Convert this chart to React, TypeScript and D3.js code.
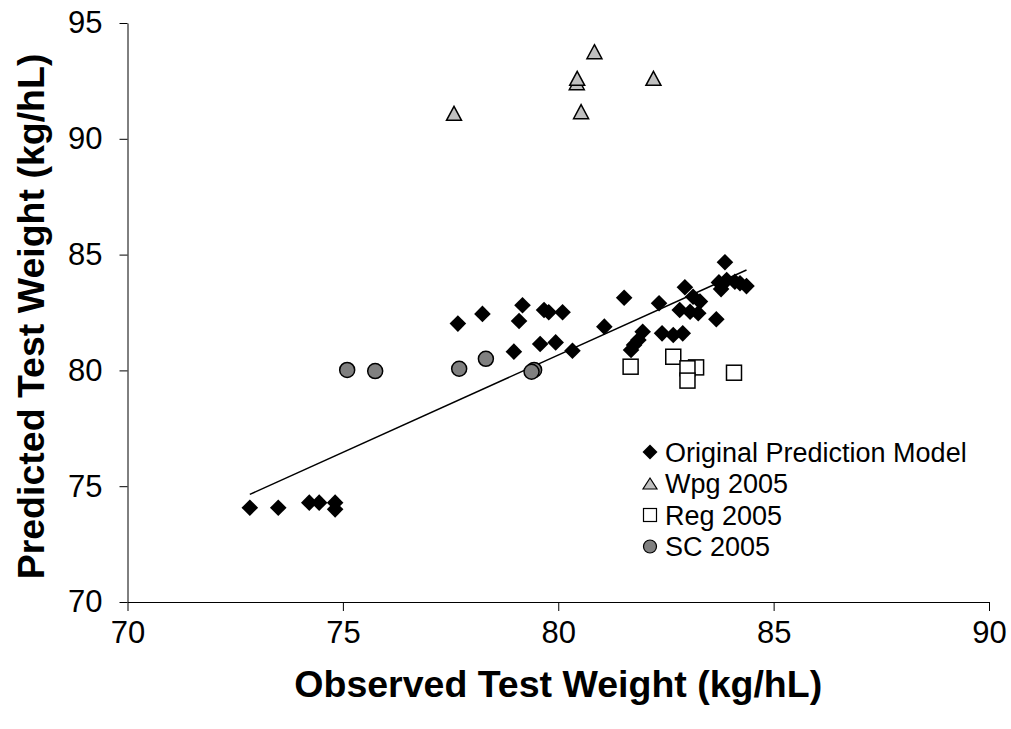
import React, { useEffect, useRef } from 'react'
import * as d3 from 'd3'

const xTicks = [70, 75, 80, 85, 90]
const yTicks = [70, 75, 80, 85, 90, 95]

// Original Prediction Model (diamonds)
const originalX = [
  72.84, 73.5, 74.22, 74.45, 74.82, 74.82, 77.67, 78.24, 79.17, 79.09, 79.67, 79.78, 80.1, 78.97,
  79.58, 79.94, 80.33, 81.53, 81.07, 82.34, 81.96, 81.86, 81.76, 81.69, 82.41, 82.67, 82.89, 82.94,
  83.13, 83.29, 82.82, 83.06, 83.25, 83.67, 83.87, 83.73, 83.91, 84.1, 84.22, 84.37, 83.78,
]
const originalY = [
  74.07, 74.07, 74.29, 74.29, 74.29, 74.0, 82.02, 82.44, 82.81, 82.13, 82.61, 82.51, 82.51, 80.81,
  81.14, 81.21, 80.85, 83.14, 81.89, 82.9, 81.67, 81.31, 81.1, 80.88, 81.6, 81.53, 81.6, 83.59,
  83.18, 82.97, 82.61, 82.53, 82.47, 82.21, 84.67, 83.8, 83.9, 83.83, 83.76, 83.64, 83.51,
]

// Wpg 2005 (triangles)
const wpgX = [77.58, 80.43, 80.44, 80.53, 80.84, 82.21]
const wpgY = [91.1, 92.42, 92.61, 91.17, 93.76, 92.61]

// Reg 2005 (squares)
const regX = [81.68, 82.67, 83.2, 83.0, 83.0, 84.08]
const regY = [80.16, 80.59, 80.13, 80.09, 79.56, 79.9]

// SC 2005 (circles)
const scX = [75.1, 75.75, 77.7, 78.32, 79.44, 79.38]
const scY = [80.02, 79.97, 80.07, 80.5, 80.02, 79.94]

const seriesNames = ['Original Prediction Model', 'Wpg 2005', 'Reg 2005', 'SC 2005']

const FONT = 'Liberation Sans, Arial, Helvetica, sans-serif'

const diamondPath = (r: number) => `M0,${-r}L${r},0L0,${r}L${-r},0Z`
const trianglePath = (w: number, h: number) =>
  `M0,${-h / 2}L${w / 2},${h / 2}L${-w / 2},${h / 2}Z`

const App = () => {
  const ref = useRef<SVGSVGElement>(null)
  const width = 1011
  const height = 729
  const margin = { top: 23, right: 22, bottom: 127, left: 127.5 }

  useEffect(() => {
    const root = d3.select(ref.current)
    root.selectAll('*').remove()

    const x = d3
      .scaleLinear()
      .domain([70, 90])
      .range([margin.left, width - margin.right])
    const y = d3
      .scaleLinear()
      .domain([70, 95])
      .range([height - margin.bottom, margin.top])

    const svg = root.append('g').attr('font-family', FONT)

    // axes
    const xAxis = svg
      .append('g')
      .attr('transform', `translate(0, ${y(70)})`)
      .call(d3.axisBottom(x).tickValues(xTicks).tickSize(9).tickPadding(10).tickSizeOuter(0))
    xAxis.select('.domain').attr('stroke', '#000')
    xAxis.selectAll('line').attr('stroke', '#000')
    xAxis.selectAll('text').attr('font-size', 31).attr('fill', '#000').attr('font-family', FONT)

    const yAxis = svg
      .append('g')
      .attr('transform', `translate(${x(70)}, 0)`)
      .call(d3.axisLeft(y).tickValues(yTicks).tickSize(8).tickPadding(17).tickSizeOuter(0))
    yAxis.select('.domain').attr('stroke', '#000')
    yAxis.selectAll('line').attr('stroke', '#000')
    yAxis.selectAll('text').attr('font-size', 31).attr('fill', '#000').attr('font-family', FONT)

    // axis titles
    svg
      .append('text')
      .attr('x', (x(70) + x(90)) / 2)
      .attr('y', 697)
      .attr('text-anchor', 'middle')
      .attr('font-weight', 'bold')
      .attr('font-size', 37.5)
      .text('Observed Test Weight (kg/hL)')

    svg
      .append('text')
      .attr('transform', `translate(44, ${(y(70) + y(95)) / 2 + 4}) rotate(-90)`)
      .attr('text-anchor', 'middle')
      .attr('font-weight', 'bold')
      .attr('font-size', 37.5)
      .text('Predicted Test Weight (kg/hL)')

    // trend line (least squares through the original model points)
    const mx = d3.mean(originalX) as number
    const my = d3.mean(originalY) as number
    const sxy = d3.sum(originalX, (v, i) => (v - mx) * (originalY[i] - my))
    const sxx = d3.sum(originalX, v => (v - mx) * (v - mx))
    const slope = sxy / sxx
    const intercept = my - slope * mx
    const [x0, x1] = d3.extent(originalX) as [number, number]
    svg
      .append('line')
      .attr('x1', x(x0))
      .attr('y1', y(intercept + slope * x0))
      .attr('x2', x(x1))
      .attr('y2', y(intercept + slope * x1))
      .attr('stroke', '#000')
      .attr('stroke-width', 1.5)

    // SC 2005 circles
    svg
      .append('g')
      .selectAll('circle')
      .data(scX.map((v, i) => [v, scY[i]]))
      .join('circle')
      .attr('cx', d => x(d[0]))
      .attr('cy', d => y(d[1]))
      .attr('r', 7.5)
      .attr('fill', '#808080')
      .attr('stroke', '#000')
      .attr('stroke-width', 1.5)

    // Reg 2005 squares
    svg
      .append('g')
      .selectAll('rect')
      .data(regX.map((v, i) => [v, regY[i]]))
      .join('rect')
      .attr('x', d => x(d[0]) - 7.5)
      .attr('y', d => y(d[1]) - 7.5)
      .attr('width', 15)
      .attr('height', 15)
      .attr('fill', '#fff')
      .attr('stroke', '#000')
      .attr('stroke-width', 1.5)

    // Wpg 2005 triangles
    svg
      .append('g')
      .selectAll('path')
      .data(wpgX.map((v, i) => [v, wpgY[i]]))
      .join('path')
      .attr('transform', d => `translate(${x(d[0])}, ${y(d[1])})`)
      .attr('d', trianglePath(15, 14))
      .attr('fill', '#c0c0c0')
      .attr('stroke', '#000')
      .attr('stroke-width', 1.5)

    // Original model diamonds
    svg
      .append('g')
      .selectAll('path')
      .data(originalX.map((v, i) => [v, originalY[i]]))
      .join('path')
      .attr('transform', d => `translate(${x(d[0])}, ${y(d[1])})`)
      .attr('d', diamondPath(8.3))
      .attr('fill', '#000')

    // legend
    const legend = svg.append('g').attr('transform', 'translate(650, 452)')
    seriesNames.forEach((name, i) => {
      const row = legend.append('g').attr('transform', `translate(0, ${i * 31.5})`)
      if (i === 0) row.append('path').attr('d', diamondPath(7.5)).attr('fill', '#000')
      if (i === 1)
        row
          .append('path')
          .attr('d', trianglePath(14, 11))
          .attr('fill', '#c0c0c0')
          .attr('stroke', '#000')
          .attr('stroke-width', 1.2)
      if (i === 2)
        row
          .append('rect')
          .attr('x', -6.5)
          .attr('y', -6.5)
          .attr('width', 13)
          .attr('height', 13)
          .attr('fill', '#fff')
          .attr('stroke', '#000')
          .attr('stroke-width', 1.2)
      if (i === 3)
        row
          .append('circle')
          .attr('r', 6.5)
          .attr('fill', '#808080')
          .attr('stroke', '#000')
          .attr('stroke-width', 1.2)
      row
        .append('text')
        .attr('x', 15)
        .attr('dy', '0.36em')
        .attr('font-size', 27)
        .attr('fill', '#000')
        .text(name)
    })
  }, [])

  return (
    <svg
      ref={ref}
      width={width}
      height={height}
      style={{ position: 'absolute', left: 0, top: 0, background: '#fff' }}
    />
  )
}

export default App
